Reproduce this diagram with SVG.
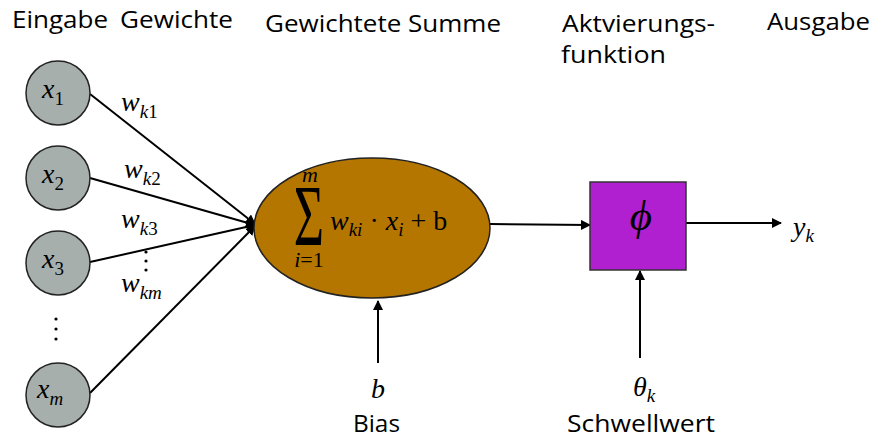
<svg xmlns="http://www.w3.org/2000/svg" width="876" height="441" viewBox="0 0 876 441">
<style>
.hdr{font-family:"Open Sans","Noto Sans",sans-serif;font-size:24px;fill:#000}
.math{font-family:"Liberation Serif","DejaVu Serif",serif;font-style:italic;font-size:28px;fill:#000}
.sub{font-size:19px}
.math.lim{font-size:22px}
.math.phi{font-size:43px}
.inp{fill:#a7afad;stroke:#222;stroke-width:1.5}
.con{stroke:#000;stroke-width:2;fill:none;marker-end:url(#ah)}
</style>
<defs>
<marker id="ah" viewBox="0 0 10 10" refX="9" refY="5" markerWidth="5" markerHeight="5" orient="auto" markerUnits="strokeWidth">
<path d="M0,0 L10,5 L0,10 z" fill="#000"/>
</marker>
</defs>
<rect width="876" height="441" fill="#fff"/>
<g id="headers">
<text class="hdr" x="12" y="28" textLength="96" lengthAdjust="spacingAndGlyphs">Eingabe</text>
<text class="hdr" x="120" y="28" textLength="113" lengthAdjust="spacingAndGlyphs">Gewichte</text>
<text class="hdr" x="265" y="32" textLength="236" lengthAdjust="spacingAndGlyphs">Gewichtete Summe</text>
<text class="hdr" x="562" y="32" textLength="153" lengthAdjust="spacingAndGlyphs">Aktvierungs-</text>
<text class="hdr" x="561" y="63" textLength="105" lengthAdjust="spacingAndGlyphs">funktion</text>
<text class="hdr" x="767" y="30" textLength="103" lengthAdjust="spacingAndGlyphs">Ausgabe</text>
</g>
<g id="connectors">
<line class="con" x1="90" y1="94" x2="255" y2="224"/>
<line class="con" x1="90" y1="178" x2="255" y2="225"/>
<line class="con" x1="90" y1="262" x2="255" y2="225"/>
<line class="con" x1="90" y1="393" x2="255" y2="226"/>
<line class="con" x1="490" y1="224" x2="590" y2="225"/>
<line class="con" x1="686" y1="223" x2="781" y2="223"/>
<line class="con" x1="378" y1="363" x2="378" y2="301"/>
<line class="con" x1="640" y1="358" x2="640" y2="271"/>
</g>
<g id="x1"><circle class="inp" cx="58" cy="93" r="32"/><text class="math" x="42" y="98">x<tspan class="sub" dy="7" font-style="normal">1</tspan></text></g>
<g id="x2"><circle class="inp" cx="58" cy="178" r="32"/><text class="math" x="42" y="183">x<tspan class="sub" dy="7" font-style="normal">2</tspan></text></g>
<g id="x3"><circle class="inp" cx="58" cy="263" r="32"/><text class="math" x="42" y="268">x<tspan class="sub" dy="7" font-style="normal">3</tspan></text></g>
<g id="xm"><circle class="inp" cx="58" cy="395" r="32"/><text class="math" x="37" y="398">x<tspan class="sub" dy="7">m</tspan></text></g>
<g id="dots-inputs" fill="#000">
<circle cx="56" cy="319" r="1.6"/><circle cx="56" cy="329" r="1.6"/><circle cx="56" cy="339" r="1.6"/>
</g>
<g id="weights">
<text class="math" x="121" y="111">w<tspan class="sub" dy="7">k<tspan font-style="normal">1</tspan></tspan></text>
<text class="math" x="124" y="178">w<tspan class="sub" dy="7">k<tspan font-style="normal">2</tspan></tspan></text>
<text class="math" x="121" y="228">w<tspan class="sub" dy="7">k<tspan font-style="normal">3</tspan></tspan></text>
<circle cx="146" cy="252" r="1.6"/><circle cx="146" cy="261" r="1.6"/><circle cx="146" cy="270" r="1.6"/>
<text class="math" x="121" y="292">w<tspan class="sub" dy="7">km</tspan></text>
</g>
<g id="sum">
<ellipse cx="372" cy="228" rx="118" ry="70" fill="#b57600" stroke="#222" stroke-width="1.5"/>
<text transform="translate(309,245) scale(1,1.65)" font-family="Liberation Serif,DejaVu Serif,serif" font-size="52" text-anchor="middle">Σ</text>
<text class="math lim" x="310" y="182" text-anchor="middle">m</text>
<text class="math lim" x="309" y="267" text-anchor="middle">i<tspan font-style="normal">=1</tspan></text>
<text class="math" x="330" y="230">w<tspan class="sub" dy="6">ki</tspan><tspan dy="-6" font-style="normal"> · </tspan>x<tspan class="sub" dy="6">i</tspan><tspan dy="-6" font-style="normal"> + b</tspan></text>
</g>
<g id="activation">
<rect x="590" y="182" width="96" height="88" fill="#b020d0" stroke="#333" stroke-width="1.5"/>
<text class="math phi" x="641" y="230" text-anchor="middle">ϕ</text>
</g>
<g id="output"><text class="math" x="793" y="236">y<tspan class="sub" dy="6">k</tspan></text></g>
<g id="bias">
<text class="math" x="378" y="398" text-anchor="middle">b</text>
<text class="hdr" x="353" y="432" textLength="47" lengthAdjust="spacingAndGlyphs">Bias</text>
</g>
<g id="threshold">
<text class="math" x="633" y="396">θ<tspan class="sub" dy="6">k</tspan></text>
<text class="hdr" x="567" y="432" textLength="148" lengthAdjust="spacingAndGlyphs">Schwellwert</text>
</g>
</svg>
